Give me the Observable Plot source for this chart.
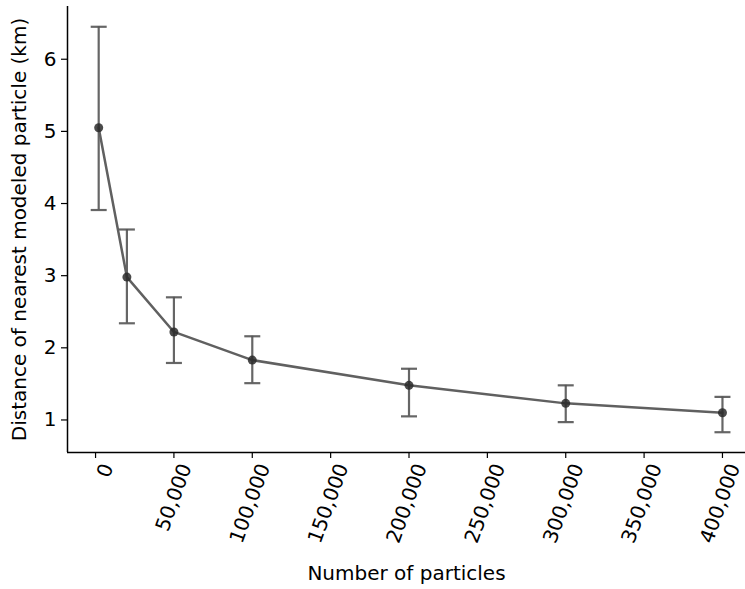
<!DOCTYPE html>
<html>
<head>
<meta charset="utf-8">
<script src="https://cdn.jsdelivr.net/npm/d3@7"></script>
<script src="https://cdn.jsdelivr.net/npm/@observablehq/plot@0.6"></script>
<style>
  html, body { margin: 0; padding: 0; background: #fff; }
  #chart svg { display: block; font-family: "DejaVu Sans", sans-serif; }
</style>
</head>
<body>
<div id="chart"></div>
<script>
const particles = [2000, 20000, 50000, 100000, 200000, 300000, 400000];
const meanDist  = [5.05, 2.98, 2.22, 1.83, 1.48, 1.23, 1.10];
const lowerErr  = [3.91, 2.34, 1.79, 1.51, 1.05, 0.97, 0.83];
const upperErr  = [6.45, 3.64, 2.70, 2.16, 1.71, 1.48, 1.32];
const xTicks = [0, 50000, 100000, 150000, 200000, 250000, 300000, 350000, 400000];
const yTicks = [1, 2, 3, 4, 5, 6];

const data = particles.map((p, i) => ({x: p, y: meanDist[i], lo: lowerErr[i], hi: upperErr[i]}));

const cap = {
  draw(context) {
    context.moveTo(-8, 0);
    context.lineTo(8, 0);
  }
};

const chart = Plot.plot({
  width: 745,
  height: 589,
  marginLeft: 67,
  marginRight: 0,
  marginTop: 6,
  marginBottom: 137,
  style: {fontFamily: "DejaVu Sans, sans-serif", fontSize: "20px", color: "#000", background: "#fff"},
  x: {domain: [-17900, 414700]},
  y: {domain: [0.549, 6.731]},
  marks: [
    Plot.axisY({ticks: yTicks, tickFormat: d3.format("d"), tickSize: 6, tickPadding: 5, fontSize: 20, label: "Distance of nearest modeled particle (km)", labelAnchor: "center", labelArrow: "none", labelOffset: 56, stroke: "#000", strokeWidth: 1.2}),
    Plot.axisX({ticks: xTicks, tickFormat: () => "", tickSize: 6, fontSize: 20, label: "Number of particles", labelAnchor: "center", labelArrow: "none", labelOffset: 127, stroke: "#000", strokeWidth: 1.2}),
    Plot.axisX({ticks: xTicks, tickFormat: d3.format(","), tickRotate: -70, tickSize: 0, tickPadding: 12, dx: 12, fontSize: 20, label: null}),
    Plot.ruleX([0], {x: () => -17900, y1: () => 0.549, y2: () => 6.731, stroke: "#000", strokeWidth: 1.5}),
    Plot.ruleY([0], {y: () => 0.549, x1: () => -17900, x2: () => 414700, stroke: "#000", strokeWidth: 1.5}),
    Plot.ruleX(data, {x: "x", y1: "lo", y2: "hi", stroke: "#555", strokeOpacity: 0.9, strokeWidth: 2.2}),
    Plot.dot(data, {x: "x", y: "lo", symbol: cap, stroke: "#555", strokeOpacity: 0.9, strokeWidth: 2.2}),
    Plot.dot(data, {x: "x", y: "hi", symbol: cap, stroke: "#555", strokeOpacity: 0.9, strokeWidth: 2.2}),
    Plot.line(data, {x: "x", y: "y", stroke: "#606060", strokeWidth: 2.5}),
    Plot.dot(data, {x: "x", y: "y", r: 4.5, fill: "#2a2a2a", fillOpacity: 0.85, stroke: "none"})
  ]
});
document.getElementById("chart").appendChild(chart);
</script>
</body>
</html>
